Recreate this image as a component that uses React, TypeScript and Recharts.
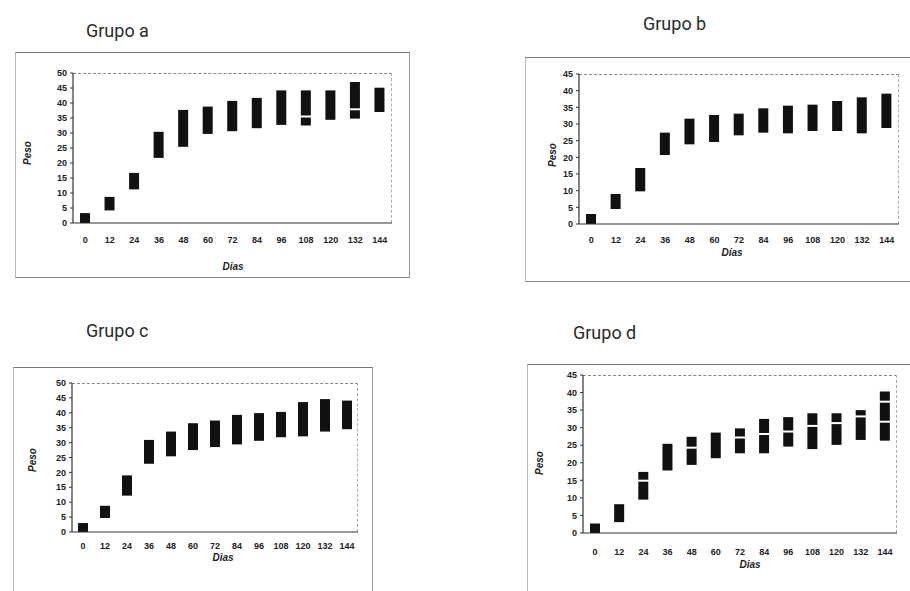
import { Bar, BarChart, XAxis, YAxis } from "recharts";

const DAYS = ["0", "12", "24", "36", "48", "60", "72", "84", "96", "108", "120", "132", "144"];

const A_LOW = [0, 4.2, 11.2, 21.7, 25.4, 29.7, 30.6, 31.6, 32.7, 32.5, 34.4, 34.8, 37];
const A_HIGH = [3.3, 8.7, 16.7, 30.4, 37.7, 38.8, 40.7, 41.7, 44.2, 44.2, 44.2, 47, 45.1];
const A_GAP = [null, null, null, null, null, null, null, null, null, 35.5, null, 37.9, null];

const B_LOW = [0, 4.5, 9.8, 20.7, 23.9, 24.6, 26.6, 27.4, 27.2, 27.9, 27.9, 27.2, 28.8];
const B_HIGH = [3, 9, 16.8, 27.4, 31.6, 32.7, 33.1, 34.7, 35.5, 35.8, 36.9, 38, 39.1];

const C_LOW = [0, 4.7, 12.2, 22.9, 25.4, 27.5, 28.5, 29.4, 30.6, 31.8, 32.1, 33.7, 34.5];
const C_HIGH = [3, 8.8, 19, 30.9, 33.7, 36.5, 37.4, 39.3, 39.9, 40.3, 43.6, 44.6, 44.1];

const D_LOW = [0, 3.1, 9.5, 17.8, 19.4, 21.3, 22.7, 22.7, 24.6, 23.9, 25.1, 26.5, 26.3];
const D_HIGH = [2.7, 8.2, 17.4, 25.4, 27.4, 28.6, 29.8, 32.5, 33, 34.1, 34.1, 35, 40.3];
const D_GAP1 = [null, null, 14.9, null, 24.3, null, 27.2, 28.2, 28.9, 30.5, 31.3, 33.2, 31.7];
const D_GAP2 = [null, null, null, null, null, null, null, null, null, null, null, null, 37.4];

const TICKS_50 = [0, 5, 10, 15, 20, 25, 30, 35, 40, 45, 50];
const TICKS_45 = [0, 5, 10, 15, 20, 25, 30, 35, 40, 45];

const build = (low, high, gaps = []) =>
  DAYS.map((d, i) => ({
    day: d,
    range: [low[i], high[i]],
    gaps: gaps.map((g) => g[i]).filter((v) => v != null),
  }));

const RangeShape = (props) => {
  const { x, y, width, height, payload } = props;
  const top = Math.min(y, y + height);
  const h = Math.abs(height);
  const [lo, hi] = payload.range;
  return (
    <g>
      <rect x={x} y={top} width={width} height={h} fill="#111" />
      {payload.gaps.map((v, i) => (
        <rect
          key={i}
          x={x - 1}
          y={top + (h * (hi - v)) / (hi - lo) - 1}
          width={width + 2}
          height={2}
          fill="#fff"
        />
      ))}
    </g>
  );
};

const FONT = "'Liberation Sans', Arial, sans-serif";
const tick = { fontSize: 9, fill: "#222", fontFamily: FONT, fontWeight: 600 };

function Panel({ title, titlePos, frame, plot, data, max, ticks, xLabel, xLabelPos, yLabelPos, xTickGap }) {
  const margin = {
    top: plot.t - frame.y,
    left: plot.l - frame.x - 30,
    right: frame.x + frame.w - plot.r,
    bottom: frame.y + frame.h - plot.b - 20,
  };
  const label = {
    position: "absolute" as const,
    width: 60,
    textAlign: "center" as const,
    fontFamily: FONT,
    fontSize: 10,
    fontWeight: 700,
    fontStyle: "italic" as const,
    color: "#222",
    lineHeight: "12px",
  };
  return (
    <>
      <div
        style={{
          position: "absolute",
          left: titlePos.x,
          top: titlePos.y,
          fontFamily: "Roboto, sans-serif",
          fontSize: 18,
          lineHeight: 1,
          color: "#2a2a2a",
          whiteSpace: "nowrap",
        }}
      >
        {title}
      </div>
      <div
        style={{
          position: "absolute",
          left: frame.x,
          top: frame.y,
          width: frame.w,
          height: frame.h,
          borderTop: "1.5px solid #777",
          borderLeft: "1px solid #bbb",
          borderRight: "1px solid #999",
          borderBottom: "1.5px solid #888",
          boxSizing: "border-box",
        }}
      />
      <div
        style={{
          position: "absolute",
          left: plot.l,
          top: plot.t,
          width: plot.r - plot.l,
          height: plot.b - plot.t,
          borderTop: "1px dashed #888",
          borderRight: "1px dashed #aaa",
          boxSizing: "border-box",
        }}
      />
      <div style={{ position: "absolute", left: frame.x, top: frame.y }}>
        <BarChart width={frame.w} height={frame.h} data={data} margin={margin} barSize={10}>
          <XAxis
            dataKey="day"
            height={20}
            tick={tick}
            tickLine={false}
            tickMargin={xTickGap}
            axisLine={{ stroke: "#333", strokeWidth: 1.2 }}
            interval={0}
          />
          <YAxis
            width={30}
            domain={[0, max]}
            ticks={ticks}
            tick={tick}
            tickSize={3}
            tickMargin={3}
            interval={0}
            axisLine={{ stroke: "#333", strokeWidth: 1.2 }}
            tickLine={{ stroke: "#333" }}
          />
          <Bar dataKey="range" shape={RangeShape} isAnimationActive={false} />
        </BarChart>
      </div>
      <div style={{ ...label, left: xLabelPos.x - 30, top: xLabelPos.y - 6 }}>{xLabel}</div>
      <div
        style={{
          ...label,
          left: yLabelPos.x - 30,
          top: yLabelPos.y - 6,
          transform: "rotate(-90deg)",
        }}
      >
        Peso
      </div>
    </>
  );
}

export default function App() {
  return (
    <div
      style={{
        position: "absolute",
        left: 0,
        top: 0,
        width: 910,
        height: 591,
        overflow: "hidden",
        background: "#fff",
      }}
    >
      <Panel
        title="Grupo a"
        titlePos={{ x: 86, y: 22 }}
        frame={{ x: 15, y: 52, w: 395, h: 226 }}
        plot={{ l: 73, t: 73, r: 392, b: 223 }}
        data={build(A_LOW, A_HIGH, [A_GAP])}
        max={50}
        ticks={TICKS_50}
        xLabel="Dias"
        xLabelPos={{ x: 233, y: 267 }}
        yLabelPos={{ x: 28, y: 153 }}
        xTickGap={8}
      />
      <Panel
        title="Grupo b"
        titlePos={{ x: 643, y: 15 }}
        frame={{ x: 525, y: 57, w: 400, h: 225 }}
        plot={{ l: 579, t: 74, r: 899, b: 224 }}
        data={build(B_LOW, B_HIGH)}
        max={45}
        ticks={TICKS_45}
        xLabel="Días"
        xLabelPos={{ x: 732, y: 253 }}
        yLabelPos={{ x: 553, y: 155 }}
        xTickGap={7}
      />
      <Panel
        title="Grupo c"
        titlePos={{ x: 86, y: 322 }}
        frame={{ x: 13, y: 367, w: 360, h: 240 }}
        plot={{ l: 72, t: 383, r: 358, b: 532 }}
        data={build(C_LOW, C_HIGH)}
        max={50}
        ticks={TICKS_50}
        xLabel="Dias"
        xLabelPos={{ x: 223, y: 558 }}
        yLabelPos={{ x: 33, y: 460 }}
        xTickGap={5}
      />
      <Panel
        title="Grupo d"
        titlePos={{ x: 573, y: 324 }}
        frame={{ x: 527, y: 364, w: 400, h: 240 }}
        plot={{ l: 583, t: 375, r: 897, b: 533 }}
        data={build(D_LOW, D_HIGH, [D_GAP1, D_GAP2])}
        max={45}
        ticks={TICKS_45}
        xLabel="Dias"
        xLabelPos={{ x: 750, y: 565 }}
        yLabelPos={{ x: 540, y: 463 }}
        xTickGap={10}
      />
    </div>
  );
}
